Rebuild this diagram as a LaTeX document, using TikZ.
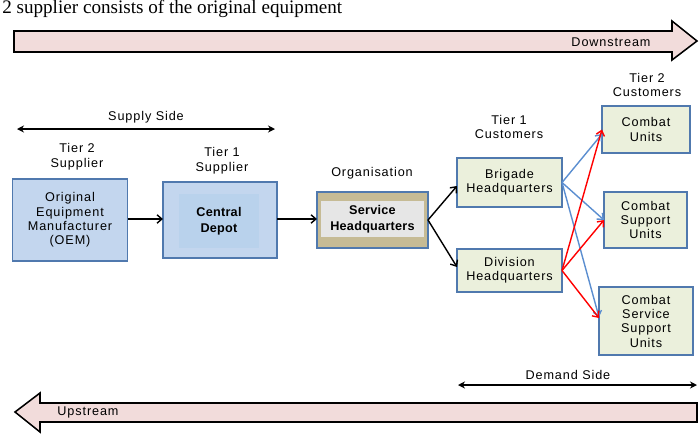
\documentclass[tikz,border=0pt]{standalone}
\usepackage{fontspec}
\usepackage{xcolor}
\usepackage{tikz}
\usetikzlibrary{arrows.meta}
\setmainfont{Liberation Sans}[LetterSpace=7]
\newfontfamily\boldlab{Liberation Sans}[LetterSpace=2]
\newfontfamily\pagetext{Liberation Serif}
\definecolor{boxedge}{HTML}{5079AE}
\definecolor{bluefill}{HTML}{C3D6EE}
\definecolor{bluecore}{HTML}{B9D2EC}
\definecolor{greenfill}{HTML}{EBF0DC}
\definecolor{tanfill}{HTML}{C6BB95}
\definecolor{grayfill}{HTML}{E6E6E6}
\definecolor{streamfill}{HTML}{F2DCDB}
\definecolor{linkblue}{HTML}{5B8ED0}
\tikzstyle{unitbox} = [draw=boxedge, line width=1.3pt, rectangle, align=center,
inner sep=0pt, outer sep=0pt, font=\fontsize{9}{10.2}\selectfont]
\tikzstyle{bluebox} = [unitbox, fill=bluefill]
\tikzstyle{greenbox} = [unitbox, fill=greenfill]
\tikzstyle{corebox} = [rectangle, inner sep=0pt, align=center,
font=\fontsize{9}{11.5}\boldlab\bfseries]
\tikzstyle{tierlabel} = [align=center, font=\fontsize{9}{10.6}\selectfont]
\tikzstyle{stream} = [draw=black, line width=1.1pt, fill=streamfill]
\tikzstyle{flow} = [-{Straight Barb[length=3.5pt,width=6pt]}, line width=1pt]
\tikzstyle{span} = [{Stealth[length=5pt,width=5pt]}-{Stealth[length=5pt,width=5pt]}, line width=1pt]

\begin{document}
\begin{tikzpicture}[x=0.025cm, y=-0.025cm]
        \useasboundingbox (0,0) rectangle (700,435);
        \clip (0,0) rectangle (700,435);
        \node[anchor=base west, inner sep=0pt, font=\fontsize{13.6}{16}\pagetext] (pageline) at (2,13.5) {2 supplier consists of the original equipment};
        % streams
        \draw[stream] (14,31) -- (672,31) -- (672,21) -- (697,41) -- (672,60) -- (672,52) -- (14,52) -- cycle;
        \node[tierlabel] (down) at (611,42) {Downstream};
        \draw[stream] (697,403) -- (40,403) -- (40,393) -- (15,412) -- (40,432) -- (40,422) -- (697,422) -- cycle;
        \node[tierlabel] (up) at (88,412) {Upstream};
        % sides
        \coordinate (supL) at (17,129);
        \coordinate (supR) at (275,129);
        \draw[span] (supL) -- (supR) node[tierlabel, midway, above=0pt] (suplabel) {Supply Side};
        \coordinate (demL) at (458,385);
        \coordinate (demR) at (697,385);
        \draw[span] (demL) -- (demR) node[tierlabel, pos=0.46, above=0pt] (demlabel) {Demand Side};
        % boxes
        \node[bluebox, minimum width=2.875cm, minimum height=2.05cm] (oem) at (70,220) {Original\\Equipment\\Manufacturer\\(OEM)};
        \node[bluebox, minimum width=2.85cm, minimum height=1.9cm] (depot) at (220,220) {};
        \node[corebox, fill=bluecore, minimum width=2.0cm, minimum height=1.35cm] (depotcore) at (219,221) {Central\\Depot};
        \node[unitbox, fill=tanfill, minimum width=2.775cm, minimum height=1.4cm] (shq) at (372.5,220) {};
        \node[corebox, fill=grayfill, minimum width=2.575cm, minimum height=0.9cm] (shqcore) at (372.5,219) {Service\\Headquarters};
        \node[greenbox, minimum width=2.625cm, minimum height=1.225cm] (brigade) at (509.5,182.5) {Brigade\\Headquarters};
        \node[greenbox, minimum width=2.625cm, minimum height=1.075cm] (division) at (509.5,270.5) {Division\\Headquarters};
        \node[greenbox, minimum width=2.2cm, minimum height=1.175cm] (cu) at (646,129.5) {Combat\\Units};
        \node[greenbox, minimum width=2.075cm, minimum height=1.4cm] (csu) at (645.5,220) {Combat\\Support\\Units};
        \node[greenbox, minimum width=2.35cm, minimum height=1.7cm] (cssu) at (646,321) {Combat\\Service\\Support\\Units};
        % tier labels
        \node[tierlabel] (t2sup) at (77,157) {Tier 2\\Supplier};
        \node[tierlabel] (t1sup) at (222,161) {Tier 1\\Supplier};
        \node[tierlabel] (org) at (372,173) {Organisation};
        \node[tierlabel] (t1cus) at (509,127) {Tier 1\\Customers};
        \node[tierlabel] (t2cus) at (647,85) {Tier 2\\Customers};
        % links
        \draw[flow] (oem.east |- 0,219) -- (depot.west |- 0,219);
        \draw[flow] (depot.east |- 0,219) -- (shq.west |- 0,219);
        \draw[flow] (shq.east) -- (brigade.west |- 0,186);
        \draw[flow] (shq.east) -- (division.west |- 0,267);
        \draw[flow, linkblue] (brigade.east) -- (cu.west |- 0,134);
        \draw[flow, linkblue] (brigade.east) -- (csu.west);
        \draw[flow, linkblue] (brigade.east) -- (cssu.west |- 0,317);
        \draw[flow, red] (division.east) -- (cu.west);
        \draw[flow, red] (division.east) -- (csu.west);
        \draw[flow, red] (division.east) -- (cssu.west |- 0,318);
    \end{tikzpicture}
\end{document}
